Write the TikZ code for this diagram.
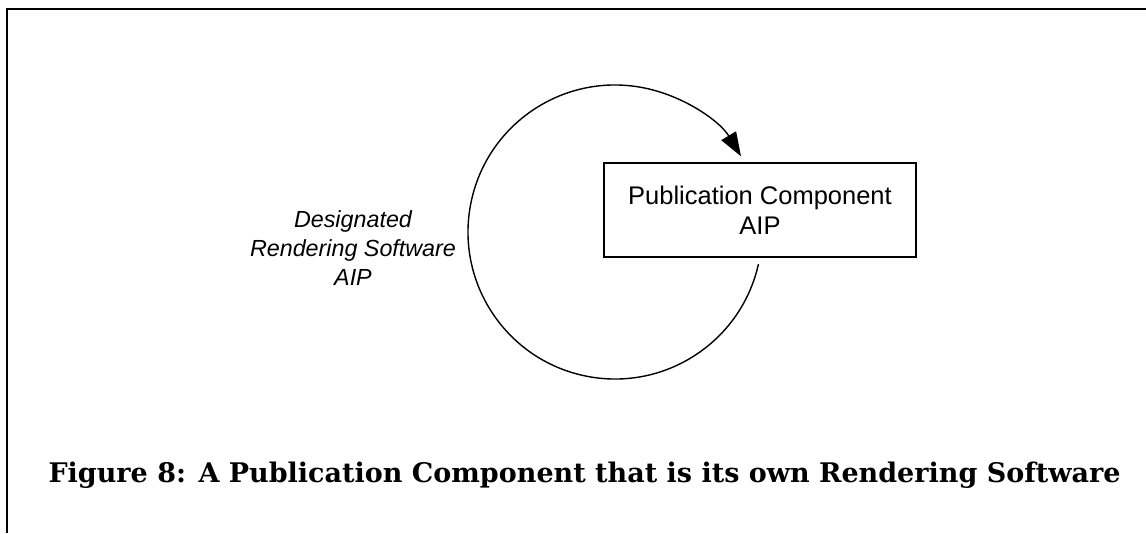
\documentclass[tikz,border=0pt]{standalone}
\usepackage{fontspec}
\setmainfont{Liberation Sans}
\newfontfamily\captionfont{DejaVu Serif}
\usepackage{tikz}
\usetikzlibrary{
    arrows.meta,
    positioning,
    calc
}
\tikzstyle{aipbox} = [
    rectangle,
    draw,
    line width=1.6pt,
    text centered,
    align=center,
    minimum width=312pt,
    minimum height=94pt,
    font=\fontsize{25.5}{30}\selectfont
]
\tikzstyle{arrow} = [
    -{Triangle[length=24pt,width=17pt]},
    line width=1.4pt
]

\begin{document}
\begin{tikzpicture}[
    x=1pt, y=-1pt,
    rolelabel/.style={align=center, font=\itshape\fontsize{23.3}{29}\selectfont},
    figcaption/.style={anchor=base west, font=\captionfont\bfseries\fontsize{27}{32}\selectfont}
]
    \useasboundingbox (0,0) rectangle (1146,533);

    % Frame
    \draw[line width=2pt] (7,533) |- (1146,9);

    % Publication component
    \node[aipbox] (pubc) at (760,210) {Publication Component\\AIP};

    % Rendering software loop
    \coordinate (loopc) at (615,232);
    \node[rolelabel] (dsgn) at (353,248) {Designated\\Rendering Software\\AIP};
    \draw[arrow] ($(loopc)+(12.6:147)$) arc[start angle=12.6, end angle=329, radius=147];

    % Caption
    \node[figcaption] (caption) at (45,482) {Figure 8: A Publication Component that is its own Rendering Software};

\end{tikzpicture}
\end{document}
